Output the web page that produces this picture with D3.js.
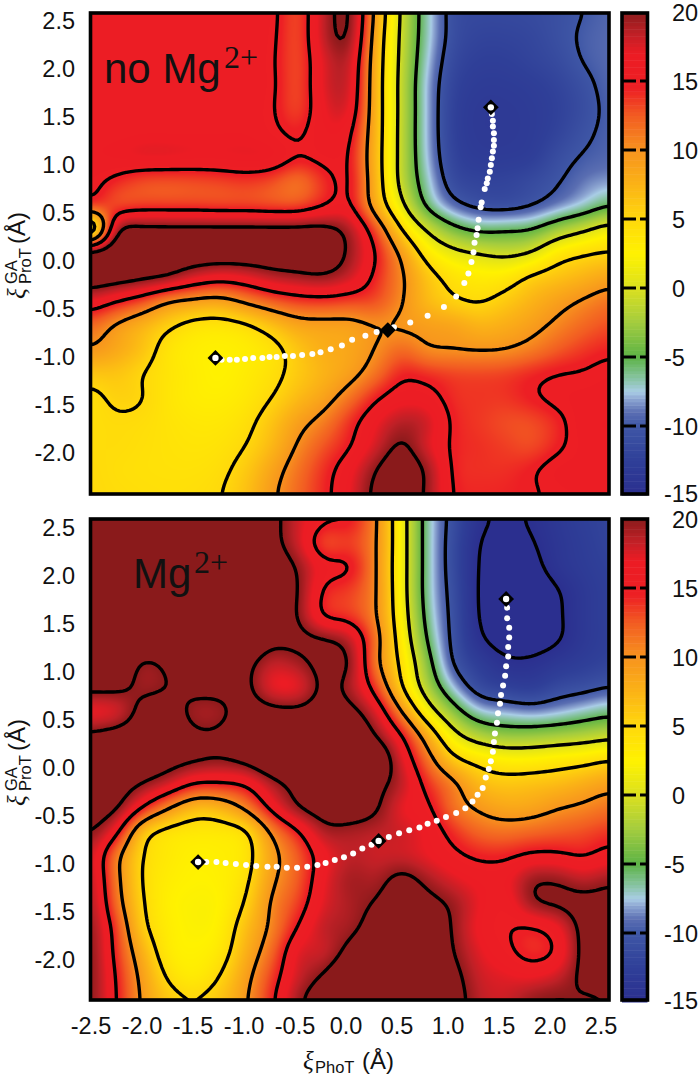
<!DOCTYPE html>
<html><head><meta charset="utf-8">
<script src="https://cdn.jsdelivr.net/npm/d3@7"></script>
<style>html,body{margin:0;padding:0;background:#fff}svg{display:block}text{fill:#111;font-family:"Liberation Sans",Arial,sans-serif}</style>
</head><body>
<svg id="chart" width="700" height="1078"></svg>
<script>
// ---- data ----
const xTicks = [-2.5,-2,-1.5,-1,-0.5,0,0.5,1,1.5,2,2.5];
const yTicks = [2.5,2,1.5,1,0.5,0,-0.5,-1,-1.5,-2];
const barTicks = [20,15,10,5,0,-5,-10,-15];
const contourLevels = [-15,-10,-5,0,5,10,15,20];
const colorStops = [-15,-12.5,-10,-9,-8,-7.5,-6.5,-5,-2.5,0,2.5,5,7.5,10,12.5,14.5,17,18.5,20];
const colorNames = ["#2b2f8f","#2f3f98","#3f57a6","#5a6eb2","#8fa8d3","#a9cde6","#86c3a0","#5cb346","#a3cc3f","#dbe01f","#fff200","#ffd80c","#fbb316","#f7931e","#f25c22","#ed1f24","#ec1c24","#bd2026","#8a1a1b"];

const noMgGrid = [
[16,16,16,16,16,16.2,16.5,15.8,13,18.5,20.5,8.8,-0.6,-6.9,-11,-11.5,-11.5,-11.3,-10.8,-10,-9.3],
[16,16,16,16,16,16.2,16.5,15.6,13,18.5,20,8,-0.8,-7,-11,-12,-12,-11.7,-10.8,-9.7,-9.2],
[16,16,16,16,16,16.2,16.5,15.4,13,17.5,18.5,7.5,-1,-7.5,-11.5,-12.5,-12.5,-12,-11.3,-9.9,-9.2],
[16,16,16,16,16,16.2,16.5,15.5,13,17.5,18,7.3,-1.2,-8,-12,-13,-13,-12.7,-12,-10.7,-9.3],
[16,16,16,16,16,16.2,16.3,15.3,13.2,17,17.3,7.3,-1.2,-8,-12.3,-13.3,-13.3,-13,-12.3,-11,-9.5],
[16.3,16.3,16.5,16.5,16.5,16.5,16.5,15.6,14.5,16.5,15.7,7.2,-1.3,-8,-12.3,-13.3,-13.3,-13,-12,-10.5,-9.5],
[16.5,16.8,17.3,17.3,17,17,17.2,17,15,15.8,15,7,-1.3,-7.8,-12,-13,-13,-12.7,-11,-9.8,-9.3],
[15.7,14.3,13,12.8,13,13.3,13.7,13,11.5,14,15.3,7.3,-1.2,-7,-11.3,-12,-12,-11.3,-10.2,-8.8,-8.2],
[14,13,13.5,13.5,13.5,13.3,13.3,13,13,14.8,15.5,8,0.8,-5.7,-9.2,-10.7,-11,-10.2,-8.7,-7.2,-5.2],
[-1,19.5,21,21,21,21,21,21,21,21,19,13,5,-0.5,-4,-5.6,-5.4,-5,-2.5,-0.5,1.5],
[22,23,22,22,22,22,22,22,22,22,19.5,15,9.3,3.5,1,0,-0.7,0.3,3.5,4.7,5.3],
[22,21.5,20.7,19.8,17.5,16.3,17,18.5,19.2,19.6,18,14.3,10.5,6.3,4,3.2,3.5,5.5,6.5,7.5,8.7],
[17,15,13,10,9,8.6,10.5,12.3,13.5,13.8,13.3,13,10.2,7,5.4,4.8,6,7.5,9,10.3,11.5],
[12,9.5,7.5,5.5,4,3.7,4.5,6.5,8.5,8.8,8.9,10,9.6,9.1,8.7,7.5,8,9.1,10.6,12,13],
[9.8,8.4,6.5,3.8,2.9,2.7,3,4,6.3,8,8.5,10.1,12,10.2,10,9.8,10,11,12.5,13.7,14.5],
[6.2,6.3,5,3.8,3,2.5,3.2,4.2,6,7.5,9,11.5,14.5,14,13.4,13.3,13.5,14.3,15,15.2,15.8],
[4.3,5.5,5.1,3.7,3,2.9,3.5,5,7,8.8,11.5,14.6,16.3,16,14,13.8,13.8,14.7,15.6,16,16],
[4.4,4.7,4.5,3.9,3.5,3.5,4.3,6.4,9,11,14,16.8,18.8,18,14.5,13.7,13,13,14.3,16.3,16.7],
[4.5,4.6,4.3,4,3.8,4,5,7.2,10.3,12.8,14.8,17.8,20.5,17.5,14.5,14,13.5,13,14.5,16,16.3],
[4.8,4.4,4.2,4.1,4.1,4.5,6,8.7,11.5,14,16.5,20,22,19.5,14.5,14,14,14.7,16,16,16],
[4.8,4.6,4.4,4.3,4.4,4.9,6.6,9.5,12,14.3,17,20.8,22,19.5,14.8,14.3,14.4,14.7,15.5,15.8,16]
];
const mgGrid = [
[23,23,23,23,23,23,23,21,18,15.5,15,10.5,1.8,-6.6,-11,-14.3,-15.5,-14.7,-13.5,-12.5,-12],
[23,23,23,23,23,23,23,21,18,13,13.5,10.4,1.8,-6.6,-11.3,-15,-16,-15.2,-13.8,-12.8,-12],
[23,23,23,23,23,23,23,22,19.8,16,15.3,10.3,1.8,-6.6,-11.3,-15.2,-16.3,-15.8,-14,-13,-12.3],
[23,23,23,23,23,23,23,22,20.2,14.5,13.5,10.4,1.8,-6.6,-11,-15.3,-16.5,-16.5,-15.2,-13.5,-12.5],
[23,23,23,23,23,23,23,22,20,14.5,13.7,10.4,2.2,-6.2,-10.8,-15.2,-16.6,-16.6,-15.4,-13.5,-12.5],
[23,23,23,23,23,23,23,21,20.8,20.3,18.5,11.5,3,-5.3,-10.7,-14.6,-16,-16.2,-15.3,-13.5,-12.5],
[23,23,19.6,20.7,23,22,21,18.3,19.2,21,20,11,4.2,-3.7,-10.2,-12.8,-14.5,-14.5,-13.5,-12.7,-12],
[21,20.8,19.4,20,21,21,20.8,17,17,20.8,19,13.7,5.3,-2.1,-7.7,-11.3,-12.3,-12.8,-11.4,-10.8,-10],
[16.7,17.5,21,21.5,19.2,19.3,21.5,21,20.8,21.5,21,17.5,10,2,-3.5,-7.3,-8,-8.6,-8,-7,-6],
[20.7,21.5,22,22,20.5,20.5,22,22,22,22,23,20,15.2,8,1.2,-1.9,-3,-2.9,-2.4,-1.8,-1],
[23,23,22.3,21.3,20.5,20,21,23,23,23,23,23,17.5,11.5,5.8,3.8,2.7,2.7,3.3,3.8,4.8],
[22.5,21.7,20,18,15,14.8,15.5,19,21,21.5,21.5,21,18.5,14,10.7,7,6.2,6.5,6.9,7.9,9],
[21.7,20.5,15,10.3,7,7.5,10.8,16,20,21.5,22,20.5,17,15.6,11.5,9.5,8.4,8.6,9.8,10.5,11.5],
[20.3,16,6.5,4,3.5,3.5,4.5,10.7,14.7,19,19,18.5,18,16.7,14,12,11.5,12,12.5,13,13.8],
[18.5,11,5,3.4,2.7,2.9,3.7,8.9,12.5,16.5,18.5,18,18,17,15.6,14.5,14.5,15.5,15.5,14.8,16],
[19,11,4.8,3,2.5,2.7,4.3,9.5,12.5,17,19.3,19,21,19.2,17.5,16.5,16.5,19.6,19.7,18.5,19.5],
[19.5,11.7,5.2,2.7,2.3,2.5,5.3,10.5,13.5,17.5,19,20.2,22,21,19.5,17,15.8,19.5,20.5,21,21],
[20,13.5,5.8,3,2.3,2.8,6.8,10.7,15.2,18.5,19.2,21.5,23,22.5,19.7,16.5,15.2,14.8,16.5,21,21],
[20.3,14,7.7,3.2,2.6,3.5,7.8,12,17.5,18,21,23,23,23,20,17.3,15.7,14,15.3,21,21],
[20.3,14.7,9,4.5,3.1,5,9,13.5,18,20.3,23,23,23,23,21,18,17.3,16.8,18,20.7,21],
[20.2,15,9.5,6.2,5.1,6.5,9.7,14.5,19.4,22,23,23,23,23,21.5,18.5,18,19.8,20.3,19.7,20]
];
const noMgPathX = [-1.22,-1.14,-1.07,-0.99,-0.91,-0.82,-0.75,-0.68,-0.60,-0.52,-0.43,-0.33,-0.25,-0.15,-0.04,0.06,0.19,0.30,0.47,0.63,0.80,0.96,1.08,1.16,1.20,1.23,1.25,1.26,1.28,1.29,1.30,1.32,1.33,1.36,1.38,1.39,1.41,1.42,1.43,1.44,1.45,1.45,1.45,1.44,1.44,1.43];
const noMgPathY = [-1.04,-1.04,-1.04,-1.03,-1.02,-1.02,-1.01,-1.01,-1.00,-1.00,-0.99,-0.98,-0.96,-0.93,-0.89,-0.83,-0.79,-0.75,-0.70,-0.65,-0.58,-0.49,-0.38,-0.24,-0.14,-0.02,0.08,0.18,0.26,0.33,0.42,0.55,0.60,0.74,0.80,0.85,0.92,0.99,1.06,1.13,1.19,1.25,1.32,1.39,1.45,1.52];
const mgPathX = [-1.37,-1.27,-1.18,-1.08,-0.98,-0.88,-0.77,-0.68,-0.58,-0.48,-0.38,-0.28,-0.20,-0.11,-0.02,0.07,0.16,0.25,0.42,0.52,0.62,0.72,0.80,0.89,0.98,1.08,1.17,1.24,1.29,1.34,1.37,1.40,1.42,1.44,1.45,1.46,1.48,1.49,1.51,1.52,1.54,1.56,1.57,1.59,1.59,1.60,1.60,1.58,1.58];
const mgPathY = [-0.99,-0.99,-1.00,-1.01,-1.02,-1.03,-1.04,-1.04,-1.05,-1.05,-1.04,-1.02,-1.00,-0.97,-0.94,-0.90,-0.85,-0.81,-0.73,-0.69,-0.66,-0.63,-0.59,-0.56,-0.52,-0.48,-0.43,-0.36,-0.29,-0.22,-0.11,-0.02,0.06,0.16,0.26,0.35,0.46,0.56,0.66,0.75,0.85,0.95,1.05,1.15,1.25,1.35,1.45,1.55,1.66];
const noMgStates = {x:[-1.28,0.41,1.42], y:[-1.02,-0.73,1.59], hollow:[true,false,true]};
const mgStates = {x:[-1.45,0.32,1.57], y:[-0.99,-0.77,1.75], hollow:[true,true,true]};

// ---- drawing ----
const svg = d3.select("#chart");
const x = d3.scaleLinear().domain([-2.5,2.5]).range([91,601]);
const color = d3.scaleLinear().domain(colorStops).range(colorNames).clamp(true);
const FRAME_L = 90.5, FRAME_R = 609;
const tickFmt = d => d.toFixed(1);

function cr(p0,p1,p2,p3,t){ return 0.5*((2*p1)+(-p0+p2)*t+(2*p0-5*p1+4*p2-p3)*t*t+(-p0+3*p1-3*p2+p3)*t*t*t); }
function sampler(grid){
  const nr=grid.length,nc=grid[0].length;
  const at=(r,c)=>grid[Math.max(0,Math.min(nr-1,r))][Math.max(0,Math.min(nc-1,c))];
  return (u,v)=>{
    const c=Math.min(nc-2,Math.floor(u)),r=Math.min(nr-2,Math.floor(v)),tu=u-c,tv=v-r,col=[];
    for(let j=-1;j<3;j++) col.push(cr(at(r+j,c-1),at(r+j,c),at(r+j,c+1),at(r+j,c+2),tu));
    return cr(col[0],col[1],col[2],col[3],tv);
  };
}

function panel(cfg){
  const {grid,dy,top,bottom,label,labelX,labelBase,supX,supBase,pathX,pathY,states,id}=cfg;
  const y=d3.scaleLinear().domain([2.5,-2]).range([20+dy,452+dy]);
  const f=sampler(grid);
  const nc=grid[0].length,nr=grid.length;

  const fac=8,fw=(nc-1)*fac+1,fh=(nr-1)*fac+1,vals=new Float64Array(fw*fh);
  for(let j=0;j<fh;j++)for(let i=0;i<fw;i++)vals[j*fw+i]=f(i/fac,j/fac);
  d3.blur2({data:vals,width:fw},1.6);
  const fine=(u,v)=>{
    const a=Math.min(fw-2,Math.floor(u)),b=Math.min(fh-2,Math.floor(v)),s=u-a,t=v-b;
    return (1-t)*((1-s)*vals[b*fw+a]+s*vals[b*fw+a+1])+t*((1-s)*vals[(b+1)*fw+a]+s*vals[(b+1)*fw+a+1]);
  };

  const W=Math.round(FRAME_R-FRAME_L),H=Math.round(bottom-top);
  const cv=document.createElement("canvas");cv.width=W;cv.height=H;
  const ctx=cv.getContext("2d"),img=ctx.createImageData(W,H);
  for(let j=0;j<H;j++)for(let i=0;i<W;i++){
    const c=d3.rgb(color(fine((i+.5)/W*(fw-1),(j+.5)/H*(fh-1))));
    const k=(j*W+i)*4;img.data[k]=c.r;img.data[k+1]=c.g;img.data[k+2]=c.b;img.data[k+3]=255;
  }
  ctx.putImageData(img,0,0);
  svg.append("clipPath").attr("id",id).append("rect").attr("x",FRAME_L).attr("y",top).attr("width",FRAME_R-FRAME_L).attr("height",bottom-top);
  const g=svg.append("g");
  g.append("image").attr("x",FRAME_L).attr("y",top).attr("width",W).attr("height",H).attr("href",cv.toDataURL());

  const sx=d3.scaleLinear().domain([0.5,fw-0.5]).range([FRAME_L,FRAME_R]);
  const sy=d3.scaleLinear().domain([0.5,fh-0.5]).range([top,bottom]);
  const proj=d3.geoTransform({point(a,b){this.stream.point(sx(a),sy(b));}});
  const cs=d3.contours().size([fw,fh]).smooth(true).thresholds(contourLevels)(Array.from(vals));
  g.append("g").attr("clip-path",`url(#${id})`).selectAll("path").data(cs).join("path")
    .attr("d",d3.geoPath(proj)).attr("fill","none").attr("stroke","#000").attr("stroke-width",3.4).attr("stroke-linejoin","round");

  const pts=d3.zip(pathX,pathY);
  g.selectAll("circle.dot").data(pts).join("circle").attr("class","dot")
    .attr("cx",d=>x(d[0])).attr("cy",d=>y(d[1])).attr("r",3).attr("fill","#fff");
  const st=states.x.map((v,i)=>({x:v,y:states.y[i],h:states.hollow[i]}));
  const sym=d3.symbol().type(d3.symbolSquare).size(125);
  g.selectAll("path.st").data(st).join("path").attr("class","st").attr("d",sym())
    .attr("transform",d=>`translate(${x(d.x)},${y(d.y)}) rotate(45)`).attr("fill","#000");
  g.selectAll("circle.c").data(st.filter(d=>d.h)).join("circle").attr("class","c")
    .attr("cx",d=>x(d.x)).attr("cy",d=>y(d.y)).attr("r",3.2).attr("fill","#fff");

  g.append("rect").attr("x",FRAME_L).attr("y",top).attr("width",FRAME_R-FRAME_L).attr("height",bottom-top)
    .attr("fill","none").attr("stroke","#000").attr("stroke-width",3.6);

  g.selectAll("text.yt").data(yTicks).join("text").attr("class","yt")
    .attr("x",75).attr("y",d=>y(d)+8.5).attr("text-anchor","end").attr("font-size",23.5).text(tickFmt);

  g.append("text").attr("x",labelX).attr("y",labelBase).attr("font-size",42).text(label);
  g.append("text").attr("x",supX).attr("y",supBase).attr("font-size",32).style("font-family","'Liberation Serif',serif").text("2+");

  // y title
  const vt=(px,py,txt,size,serif,ital)=>{
    const t=g.append("text").attr("transform",`translate(${px},${py+dy}) rotate(-90)`).attr("font-size",size).text(txt);
    if(serif)t.style("font-family","'Liberation Serif',serif");
    if(ital)t.style("font-style","italic");
  };
  vt(25,299,"\u03BE",25,true,true);
  vt(17,284,"GA",16.5);
  vt(31,284,"ProT",16.5);
  vt(25,244,"(\u00C5)",24);

  // colour bar
  const bar=d3.scaleLinear().domain([-15,20]).range([495+dy,12+dy]);
  const bands=d3.range(-15,20,0.25);
  g.selectAll("rect.b").data(bands).join("rect").attr("class","b")
    .attr("x",622).attr("width",25.5).attr("y",d=>bar(d+0.25)).attr("height",d=>bar(d)-bar(d+0.25)+0.5)
    .attr("fill",d=>color(d+0.125));
  g.selectAll("path.tk").data(barTicks.filter(d=>d>-15&&d<20)).join("path").attr("class","tk")
    .attr("d",d=>`M622,${bar(d)}H636M640,${bar(d)}H647`).attr("stroke","#000").attr("stroke-width",3).attr("fill","none");
  g.append("rect").attr("x",622).attr("y",top).attr("width",25.5).attr("height",bottom-top)
    .attr("fill","none").attr("stroke","#000").attr("stroke-width",3.6);
  g.selectAll("text.bt").data(barTicks).join("text").attr("class","bt")
    .attr("x",d=>d<0?664:672).attr("y",d=>bar(d)+8.5-(d===-15?2:0)).attr("font-size",23.5).text(d=>d);
}

panel({id:"c1",grid:noMgGrid,dy:0,top:13,bottom:494,label:"no Mg",labelX:104,labelBase:83,supX:224,supBase:68,
  pathX:noMgPathX,pathY:noMgPathY,states:noMgStates});
panel({id:"c2",grid:mgGrid,dy:507,top:519,bottom:1000,label:"Mg",labelX:133,labelBase:588,supX:194,supBase:573,
  pathX:mgPathX,pathY:mgPathY,states:mgStates});

svg.selectAll("text.xt").data(xTicks).join("text").attr("class","xt")
  .attr("x",d=>x(d)).attr("y",1033.5).attr("text-anchor","middle").attr("font-size",23.5).text(tickFmt);
svg.append("text").attr("x",303).attr("y",1069).attr("font-size",25).style("font-family","'Liberation Serif',serif").style("font-style","italic").text("\u03BE");
svg.append("text").attr("x",315).attr("y",1073).attr("font-size",16.5).text("PhoT");
svg.append("text").attr("x",362).attr("y",1069).attr("font-size",24).text("(\u00C5)");
</script>
</body></html>
